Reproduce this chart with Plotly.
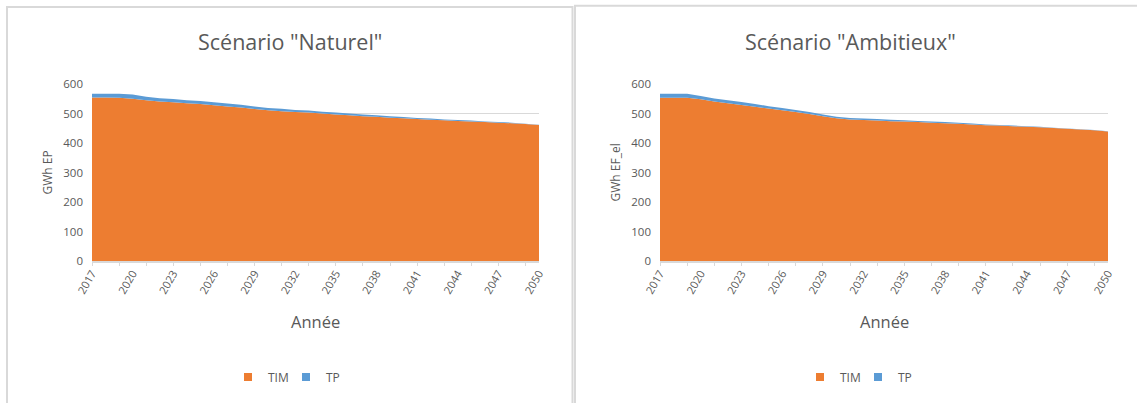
import plotly.graph_objects as go

W, H = 1137, 403

years = list(range(2017, 2051))
label_years = list(range(2017, 2051, 3))
tick_years = list(range(2017, 2050, 2))

# Scénario "Naturel" (GWh EP)
tim_naturel = [554, 554, 553, 550, 545, 541, 538, 535, 532, 528, 524, 520, 515, 511, 508, 505, 503,
               500, 497, 494, 491, 489, 486, 484, 481, 479, 477, 475, 473, 471, 469, 467, 464, 461]
tp_naturel = [13, 13, 14, 14, 12, 11, 11, 10, 10, 10, 10, 10, 9, 8, 8, 7, 7,
              6, 6, 6, 6, 5, 5, 4, 4, 4, 3, 3, 3, 2, 2, 2, 1, 1]

# Scénario "Ambitieux" (GWh EF_el)
tim_ambitieux = [553, 553, 553, 548, 541, 535, 529, 523, 517, 511, 505, 498, 491, 484, 480, 478, 476,
                 474, 473, 471, 469, 467, 465, 463, 460, 459, 457, 455, 453, 451, 448, 446, 443, 439]
tp_ambitieux = [14, 14, 14, 11, 10, 10, 10, 9, 8, 8, 7, 7, 6, 5, 5, 5, 5,
                5, 4, 4, 4, 4, 4, 3, 3, 2, 2, 2, 2, 1, 1, 1, 1, 1]

titles = ['Scénario "Naturel"', 'Scénario "Ambitieux"']
ytitles = ["GWh EP", "GWh EF_el"]
xtitle = "Année"
series_names = ["TIM", "TP"]

C_TIM = "#ED7D31"
C_TP = "#5B9BD5"
GREY = "#595959"
LINE = "#D9D9D9"
FONT = "'Open Sans', Lato, sans-serif"

def px_x(p):
    return p / W

def px_y(p):
    return 1 - p / H

fig = go.Figure()

panels = [
    dict(tim=tim_naturel, tp=tp_naturel, xa="x", ya="y", legend="legend", sg="n"),
    dict(tim=tim_ambitieux, tp=tp_ambitieux, xa="x2", ya="y2", legend="legend2", sg="a"),
]

for p in panels:
    fig.add_trace(go.Scatter(x=years, y=p["tim"], name="TIM", stackgroup=p["sg"], mode="none",
                             fillcolor=C_TIM, xaxis=p["xa"], yaxis=p["ya"], showlegend=False))
    fig.add_trace(go.Scatter(x=years, y=p["tp"], name="TP", stackgroup=p["sg"], mode="none",
                             fillcolor=C_TP, xaxis=p["xa"], yaxis=p["ya"], showlegend=False))
    for nm, col in zip(series_names, [C_TIM, C_TP]):
        fig.add_trace(go.Scatter(x=[None], y=[None], mode="markers", name=nm,
                                 marker=dict(symbol="square", size=8, color=col),
                                 xaxis=p["xa"], yaxis=p["ya"], legend=p["legend"],
                                 showlegend=True, hoverinfo="skip"))

# invisible traces for the tick-mark overlay axes
fig.add_trace(go.Scatter(x=[None], y=[None], xaxis="x3", yaxis="y", showlegend=False, hoverinfo="skip"))
fig.add_trace(go.Scatter(x=[None], y=[None], xaxis="x4", yaxis="y2", showlegend=False, hoverinfo="skip"))

ydom = [px_y(261), px_y(84)]
xdoms = [[px_x(92), px_x(539)], [px_x(660), px_x(1108)]]

xcommon = dict(range=[2017, 2050], tickmode="array", tickvals=label_years,
               ticktext=[str(v) for v in label_years], tickangle=-60, ticks="",
               showline=True, linecolor=LINE, linewidth=1.5, showgrid=False, zeroline=False,
               automargin=False,
               tickfont=dict(family=FONT, size=11, color=GREY), fixedrange=True)
ycommon = dict(range=[0, 600], tickmode="array", tickvals=list(range(0, 601, 100)),
               showgrid=True, gridcolor=LINE, gridwidth=1, zeroline=False, showline=False,
               ticks="", ticklabelstandoff=8, domain=ydom, automargin=False,
               tickfont=dict(family=FONT, size=11.5, color=GREY), fixedrange=True)
tickcommon = dict(range=[2017, 2050], tickmode="array", tickvals=tick_years, ticks="outside",
                  ticklen=4, tickcolor=LINE, tickwidth=1, showticklabels=False, showgrid=False,
                  zeroline=False, showline=False, fixedrange=True, automargin=False)

legcommon = dict(orientation="h", yanchor="middle", xanchor="left",
                 font=dict(family=FONT, size=12, color=GREY), itemwidth=30,
                 traceorder="normal", entrywidth=13, entrywidthmode="pixels",
                 bgcolor="rgba(0,0,0,0)", itemclick=False, itemdoubleclick=False)

fig.update_layout(
    width=W, height=H,
    margin=dict(l=0, r=0, t=0, b=0, autoexpand=False),
    paper_bgcolor="white", plot_bgcolor="white",
    font=dict(family=FONT, color=GREY),
    xaxis=dict(domain=xdoms[0], anchor="y", **xcommon),
    xaxis2=dict(domain=xdoms[1], anchor="y2", **xcommon),
    xaxis3=dict(overlaying="x", anchor="y", **tickcommon),
    xaxis4=dict(overlaying="x2", anchor="y2", **tickcommon),
    yaxis=dict(anchor="x", **ycommon),
    yaxis2=dict(anchor="x2", **ycommon),
    legend=dict(x=px_x(228), y=px_y(377), **legcommon),
    legend2=dict(x=px_x(800), y=px_y(377), **legcommon),
    showlegend=True,
)

annotations = []
for i, (t, yt) in enumerate(zip(titles, ytitles)):
    cx = [290, 850][i]
    annotations.append(dict(text=t, x=px_x(cx), y=px_y(42), xref="paper", yref="paper",
                            showarrow=False, xanchor="center", yanchor="middle",
                            font=dict(family=FONT, size=21.5, color=GREY)))
    annotations.append(dict(text=yt, x=px_x([47, 615][i]), y=px_y(172.5), xref="paper", yref="paper",
                            showarrow=False, xanchor="center", yanchor="middle", textangle=-90,
                            font=dict(family=FONT, size=12, color=GREY)))
    annotations.append(dict(text=xtitle, x=px_x([315.5, 884][i]), y=px_y(321), xref="paper", yref="paper",
                            showarrow=False, xanchor="center", yanchor="middle",
                            font=dict(family=FONT, size=16.5, color=GREY)))
fig.update_layout(annotations=annotations)

# chart panel borders
fig.add_shape(type="rect", xref="paper", yref="paper", x0=px_x(7), x1=px_x(572.5),
              y0=px_y(415), y1=px_y(7), line=dict(color=LINE, width=2), layer="above")
fig.add_shape(type="rect", xref="paper", yref="paper", x0=px_x(575), x1=px_x(1150),
              y0=px_y(415), y1=px_y(5.7), line=dict(color=LINE, width=2), layer="above")

fig.write_html("out.html", config={"displayModeBar": False})
